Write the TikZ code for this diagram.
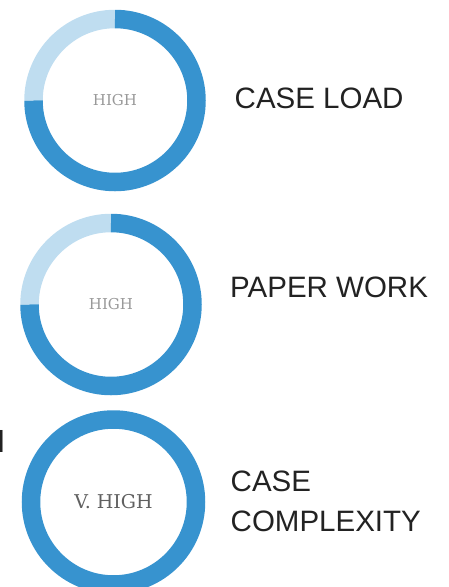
\documentclass[tikz,border=0pt]{standalone}
\usepackage{fontspec}
\setmainfont{Liberation Sans}
\newfontfamily\slabfont{DejaVu Serif}
\usetikzlibrary{positioning}
\definecolor{ringDark}{HTML}{3793CF}
\definecolor{ringLight}{HTML}{BFDDF0}
\definecolor{labelText}{HTML}{222222}
\begin{document}
\begin{tikzpicture}[x=1pt, y=1pt]
%% one unit is one pixel of the 448x587 figure, y runs downwards as -y
\tikzstyle{ringArc}=[line width=18.5pt, draw=ringDark]
\tikzstyle{ringArcLight}=[line width=18.5pt, draw=ringLight]
\tikzstyle{level}=[inner sep=0pt, text=gray!80]
\tikzstyle{topic}=[inner sep=0pt, anchor=base west, text=labelText, font=\fontsize{29.5}{40}\selectfont]
\useasboundingbox (0,0) rectangle (448,-587);
%% centres of the rings
\coordinate (Case_Load) at (115,-100.5);
\coordinate (Paper_Work) at (111,-304.5);
\coordinate (Case_Complexity) at (113.5,-502);
%% ring for Case_Load
\draw[ringArcLight] (Case_Load) ++(90:81.5) arc (90:180:81.5);
\draw[ringArc] (Case_Load) ++(180:81.5) arc (180:450:81.5);
\node[level, font=\slabfont\fontsize{15}{18}\selectfont] at (Case_Load) (High_Load) {HIGH};
%% ring for Paper_Work
\draw[ringArcLight] (Paper_Work) ++(90:81.5) arc (90:180:81.5);
\draw[ringArc] (Paper_Work) ++(180:81.5) arc (180:450:81.5);
\node[level, font=\slabfont\fontsize{15}{18}\selectfont] at (Paper_Work) (High_Paper) {HIGH};
%% ring for Case_Complexity
\draw[ringArc] (Case_Complexity) circle (82.5);
\node[level, text=gray!75!black, font=\slabfont\fontsize{19}{22}\selectfont] at (Case_Complexity) (VHigh_Complexity) {V. HIGH};
%% labels on the right
\node[topic] at (234.5,-108) (Label_Load) {CASE LOAD};
\node[topic] at (230,-297) (Label_Paper) {PAPER WORK};
%% base of a two line node is the last line
\node[topic, align=left] at (230.5,-531) (Label_Complexity) {CASE\\COMPLEXITY};
%% cut off letter at the left edge
\node[inner sep=0pt, anchor=base east, text=labelText, font=\fontsize{32}{36}\selectfont] at (5.5,-452) (Cut_Text) {H};
\end{tikzpicture}
\end{document}
